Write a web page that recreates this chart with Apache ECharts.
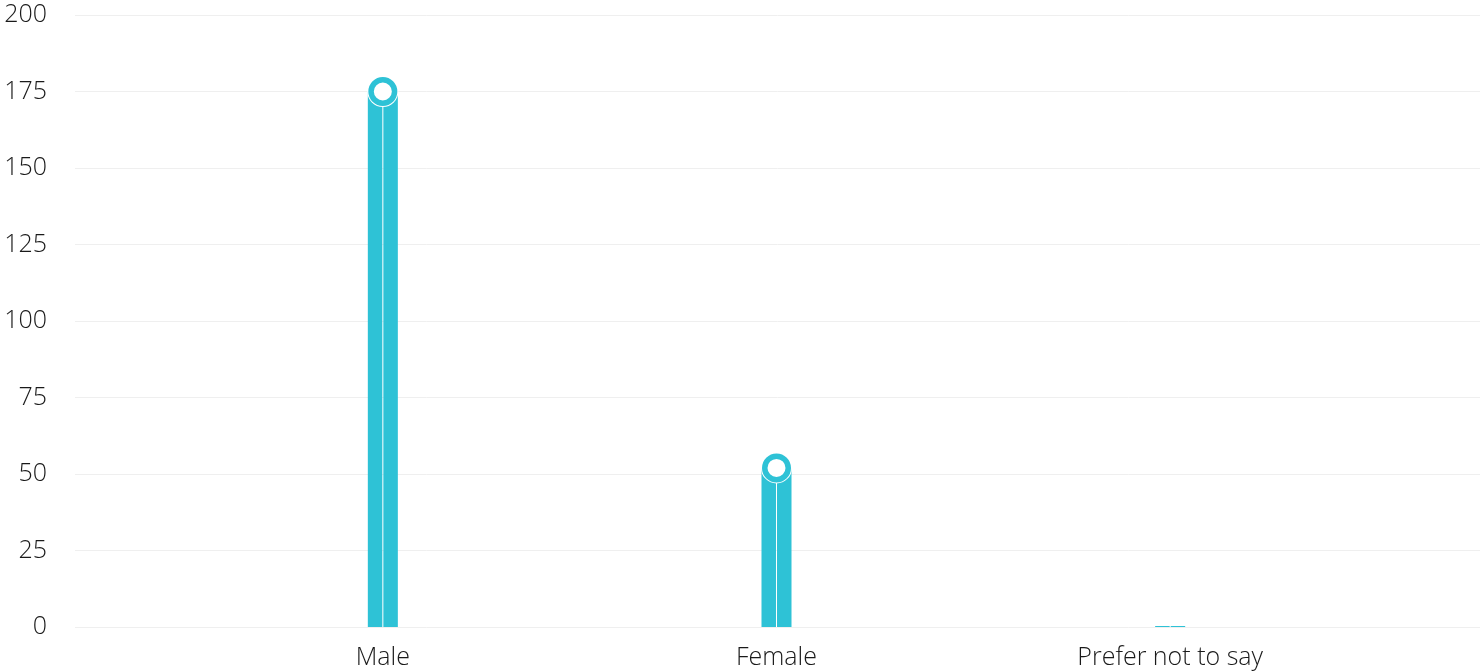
<!DOCTYPE html>
<html><head><meta charset="utf-8">
<script src="https://cdn.jsdelivr.net/npm/echarts@6/dist/echarts.min.js"></script>
<style>html,body{margin:0;padding:0;background:#fff}#c{width:1480px;height:671px}</style>
</head><body><div id="c"></div>
<script>
const categories = ['Male', 'Female', 'Prefer not to say'];
const values = [175, 52, 0];
const yTicks = [0, 25, 50, 75, 100, 125, 150, 175, 200];

const teal = '#2ec2d6';
const font = '"Open Sans", Lato, sans-serif';
const chart = echarts.init(document.getElementById('c'));
const markerData = values.map(v => v > 0 ? v : '-');
chart.setOption({
  animation: false,
  grid: [
    {left: 75, right: 0, top: 15, bottom: 44},
    {left: 186, right: 113, top: 15, bottom: 44}
  ],
  xAxis: [
    {gridIndex: 0, type: 'category', data: categories, show: false},
    {gridIndex: 1, type: 'category', data: categories,
     axisLine: {show: false}, axisTick: {show: false},
     axisLabel: {color: '#1a1a1a', fontSize: 25, fontWeight: 300, fontFamily: font, margin: 18}}
  ],
  yAxis: [
    {gridIndex: 0, type: 'value', min: yTicks[0], max: yTicks[yTicks.length-1], interval: 25,
     axisLine: {show: false}, axisTick: {show: false},
     axisLabel: {color: '#1a1a1a', fontSize: 25, fontWeight: 300, fontFamily: font, margin: 28},
     splitLine: {lineStyle: {color: '#efefef', width: 1}}},
    {gridIndex: 1, type: 'value', min: yTicks[0], max: yTicks[yTicks.length-1], interval: 25, show: false}
  ],
  series: [
    {type: 'bar', xAxisIndex: 1, yAxisIndex: 1, data: values, barWidth: 14.5, barGap: '7%', barMinHeight: 1,
     itemStyle: {color: teal}},
    {type: 'bar', xAxisIndex: 1, yAxisIndex: 1, data: values, barWidth: 14.5, barGap: '7%', barMinHeight: 1,
     itemStyle: {color: teal}},
    {type: 'scatter', xAxisIndex: 1, yAxisIndex: 1, data: markerData, symbol: 'circle', symbolSize: 31,
     itemStyle: {color: '#fff', opacity: 1}, z: 5},
    {type: 'scatter', xAxisIndex: 1, yAxisIndex: 1, data: markerData, symbol: 'circle', symbolSize: 23.5,
     itemStyle: {color: '#fff', borderColor: teal, borderWidth: 5.5, opacity: 1}, z: 6}
  ]
});
</script></body></html>
